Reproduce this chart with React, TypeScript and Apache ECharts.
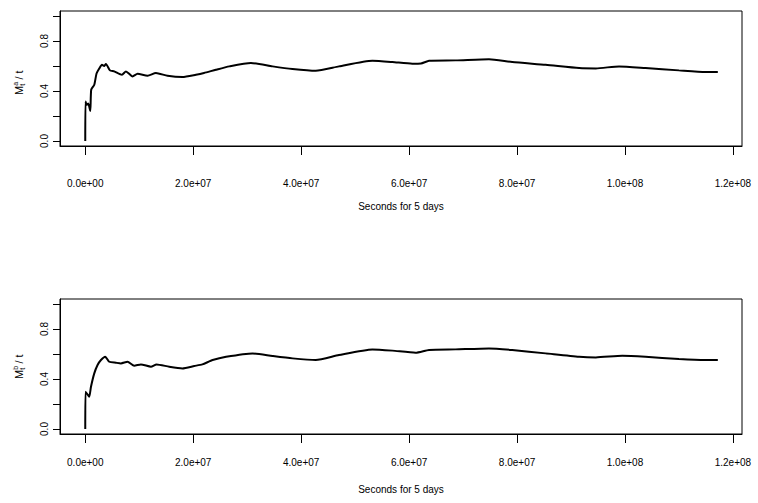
import React, { useEffect, useRef } from "react";
import * as echarts from "echarts";

// x: seconds, y: M_t / t
const xTickValues = [0, 2e7, 4e7, 6e7, 8e7, 1e8, 1.2e8];
const xTickLabels = ["0.0e+00", "2.0e+07", "4.0e+07", "6.0e+07", "8.0e+07", "1.0e+08", "1.2e+08"];
const yTickValues = [0, 0.2, 0.4, 0.6, 0.8, 1.0];
const yLabelValues = [0, 0.4, 0.8];
const yTickLabels = ["0.0", "0.4", "0.8"];
const xTitle = "Seconds for 5 days";

// top panel (a)
const timeA = [0, 4e4, 2.8e5, 5.6e5, 9.3e5, 1.1e6, 1.67e6, 2.09e6, 2.59e6, 3.09e6,
  3.5e6, 3.83e6, 4.57e6, 5.37e6, 6.8e6, 7.54e6, 8.76e6, 9.69e6, 1.154e7, 1.309e7,
  1.524e7, 1.8e7, 2.05e7, 2.2e7, 2.42e7, 2.67e7, 3.07e7, 3.47e7, 3.84e7, 4.27e7,
  4.7e7, 5.32e7, 5.69e7, 6.06e7, 6.22e7, 6.37e7, 6.86e7, 7.48e7, 7.91e7, 8.53e7,
  9.15e7, 9.46e7, 9.89e7, 1.038e8, 1.1e8, 1.149e8, 1.172e8];
const valueA = [0.0, 0.317, 0.29, 0.3, 0.24, 0.41, 0.45, 0.54, 0.58, 0.61,
  0.6, 0.616, 0.565, 0.557, 0.53, 0.557, 0.517, 0.538, 0.522, 0.544,
  0.522, 0.512, 0.53, 0.544, 0.57, 0.597, 0.624, 0.597, 0.576, 0.562,
  0.597, 0.642, 0.632, 0.618, 0.62, 0.642, 0.645, 0.655, 0.632, 0.61,
  0.584, 0.581, 0.597, 0.584, 0.565, 0.552, 0.552];

// bottom panel (b)
const timeB = [0, 4e4, 3.7e5, 7.4e5, 1.06e6, 1.67e6, 2.28e6, 2.91e6, 3.7e6, 4.44e6,
  5.69e6, 6.61e6, 7.83e6, 9.07e6, 1.031e7, 1.217e7, 1.32e7, 1.556e7, 1.8e7, 2.02e7,
  2.17e7, 2.36e7, 2.61e7, 3.1e7, 3.47e7, 3.84e7, 4.27e7, 4.7e7, 5.32e7, 5.69e7,
  6.12e7, 6.37e7, 6.86e7, 7.48e7, 7.91e7, 8.53e7, 9.15e7, 9.46e7, 9.95e7, 1.038e8,
  1.1e8, 1.149e8, 1.172e8];
const valueB = [0.0, 0.298, 0.28, 0.258, 0.338, 0.445, 0.512, 0.552, 0.578, 0.538,
  0.53, 0.525, 0.538, 0.506, 0.517, 0.498, 0.517, 0.498, 0.485, 0.504,
  0.517, 0.552, 0.578, 0.605, 0.584, 0.565, 0.552, 0.592, 0.637, 0.627,
  0.61, 0.632, 0.637, 0.645, 0.632, 0.605, 0.578, 0.573, 0.586, 0.578,
  0.56, 0.552, 0.552];

const FONT = '"Liberation Sans", Arial, Helvetica, sans-serif';
const X_MAX_DATA = 1.17e8;
const X_MIN = -0.04 * X_MAX_DATA;
const X_MAX = 1.04 * X_MAX_DATA;
const Y_TICK_LEN = 7;

function makeX(gridIndex: number, labelMargin: number, nameGap: number) {
  return {
    type: "value",
    gridIndex,
    min: X_MIN,
    max: X_MAX,
    name: xTitle,
    nameLocation: "middle",
    nameGap,
    nameTextStyle: { fontFamily: FONT, fontSize: 10, color: "#000" },
    axisLine: { show: true, onZero: false, lineStyle: { color: "#000", width: 1 } },
    splitLine: { show: false },
    axisTick: {
      show: true,
      inside: false,
      customValues: xTickValues,
      length: 9,
      lineStyle: { color: "#000", width: 1 },
    },
    axisLabel: {
      customValues: xTickValues,
      margin: labelMargin,
      fontFamily: FONT,
      fontSize: 10,
      color: "#000",
      formatter: (v: number) => {
        const i = xTickValues.findIndex((t) => Math.abs(t - v) < 1);
        return i >= 0 ? xTickLabels[i] : "";
      },
    },
  };
}

function makeY(gridIndex: number) {
  return {
    type: "value",
    gridIndex,
    position: "left",
    min: -0.04,
    max: 1.04,
    axisLine: { show: true, onZero: false, lineStyle: { color: "#000", width: 1 } },
    splitLine: { show: false },
    axisTick: {
      show: true,
      inside: false,
      customValues: yTickValues,
      length: Y_TICK_LEN,
      lineStyle: { color: "#000", width: 1 },
    },
    axisLabel: {
      customValues: yLabelValues,
      rotate: 90,
      margin: 11,
      fontFamily: FONT,
      fontSize: 10,
      color: "#000",
      formatter: (v: number) => {
        const i = yLabelValues.findIndex((t) => Math.abs(t - v) < 1e-6);
        return i >= 0 ? yTickLabels[i] : "";
      },
    },
  };
}

// y tick marks drawn through the axis scale (custom series, outside the plot box)
function yTickSeries(index: number) {
  return {
    type: "custom",
    xAxisIndex: index,
    yAxisIndex: index,
    clip: false,
    silent: true,
    data: yTickValues.map((v) => [X_MIN, v]),
    renderItem: (_params: any, api: any) => {
      const p = api.coord([api.value(0), api.value(1)]);
      const y = Math.round(p[1]) + 0.5;
      return {
        type: "line",
        shape: { x1: p[0] - Y_TICK_LEN, y1: y, x2: p[0], y2: y },
        style: { stroke: "#000", lineWidth: 1 },
      };
    },
  };
}

function yTitle(cx: number, cy: number, sup: string) {
  const base = { fontFamily: FONT, fill: "#000" };
  return {
    type: "group",
    x: cx,
    y: cy,
    rotation: Math.PI / 2,
    children: [
      { type: "text", x: -13, y: 0, style: { ...base, text: "M", fontSize: 11, align: "left", verticalAlign: "middle" } },
      { type: "text", x: -3.8, y: -3.8, style: { ...base, text: sup, fontSize: 7, align: "left", verticalAlign: "middle" } },
      { type: "text", x: -3.8, y: 3.8, style: { ...base, text: "t", fontSize: 7, align: "left", verticalAlign: "middle" } },
      { type: "text", x: 2.5, y: 0, style: { ...base, text: "/ t", fontSize: 11, align: "left", verticalAlign: "middle" } },
    ],
  };
}

export default function App() {
  const ref = useRef<HTMLDivElement>(null);
  useEffect(() => {
    if (!ref.current) return;
    const chart = echarts.init(ref.current, null, { renderer: "svg" });
    const seriesA = timeA.map((t, i) => [t, valueA[i]]);
    const seriesB = timeB.map((t, i) => [t, valueB[i]]);
    chart.setOption({
      animation: false,
      backgroundColor: "#fff",
      grid: [
        { left: 60, width: 682, top: 11, height: 135, show: true, borderColor: "#000", borderWidth: 1, backgroundColor: "transparent" },
        { left: 60, width: 682, top: 299, height: 135, show: true, borderColor: "#000", borderWidth: 1, backgroundColor: "transparent" },
      ],
      xAxis: [makeX(0, 32, 55), makeX(1, 23, 50)],
      yAxis: [makeY(0), makeY(1)],
      series: [
        {
          type: "line",
          xAxisIndex: 0,
          yAxisIndex: 0,
          data: seriesA,
          showSymbol: false,
          smooth: 0.2,
          lineStyle: { color: "#000", width: 2 },
        },
        {
          type: "line",
          xAxisIndex: 1,
          yAxisIndex: 1,
          data: seriesB,
          showSymbol: false,
          smooth: 0.2,
          lineStyle: { color: "#000", width: 2 },
        },
        yTickSeries(0),
        yTickSeries(1),
      ],
      graphic: [yTitle(19, 82, "a"), yTitle(19, 366, "b")],
    });
    return () => chart.dispose();
  }, []);
  return (
    <div
      ref={ref}
      style={{ position: "fixed", left: 0, top: 0, width: 758, height: 503, background: "#fff" }}
    />
  );
}
